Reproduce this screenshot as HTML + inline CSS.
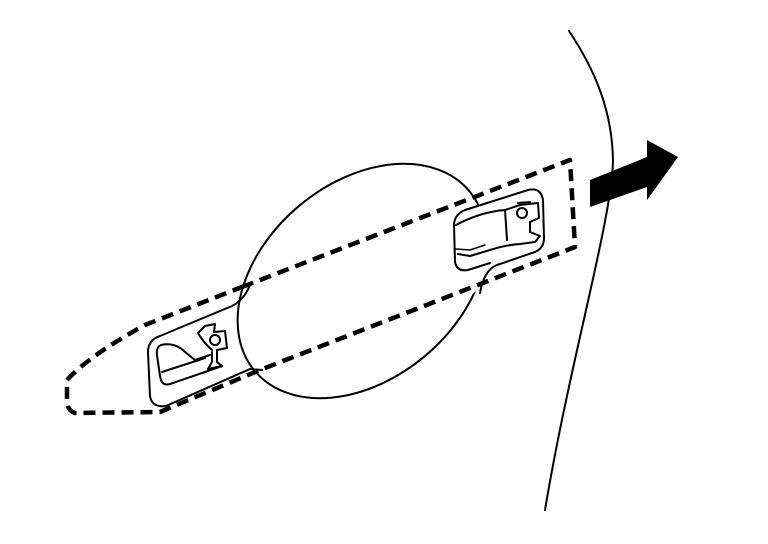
<!DOCTYPE html>
<html><head><style>html,body{margin:0;padding:0;background:#fff;}svg{display:block}</style></head>
<body>
<svg width="768" height="544" viewBox="0 0 768 544" xmlns="http://www.w3.org/2000/svg">
<rect width="768" height="544" fill="#fff"/>
<g fill="none" stroke="#000" stroke-linecap="round" stroke-linejoin="round">
<path d="M569,31 C595,70 612,110 613,160 C612,220 570,360 545,510" stroke-width="2"/>
<ellipse cx="362" cy="281" rx="140" ry="98" transform="rotate(-40 362 281)" stroke-width="2"/>
<path d="M455,215 L530,187 Q543,185 544,198 L545,240 Q544,250 530,254 L495,264 Q484,268 480,288 L470,296 L462,272 Q453,270 453,260 Z" fill="#fff" stroke="none"/>
<path d="M262,370 L250,369 L166,406 Q152,408 150,396 L148,352 Q148,340 160,336 L232,306 Q244,300 250,285" stroke-width="2"/>
<path d="M480,293 Q484,270 497,265 L535,252 Q544,248 544,238 L543,200 Q541,187 528,190 L465,210 Q455,214 454,224 L455,262 Q457,272 468,270 L490,263" stroke-width="2"/>
<path d="M456,225 Q480,212 505,210 L520,205 L538,203 L539,218 L530,222 L530,232 L540,236 L535,242 L520,244 Q505,245 490,250 L470,256 L458,254" stroke-width="2"/>
<path d="M505,210 L507,240" stroke-width="2"/>
<circle cx="522" cy="213" r="5" stroke-width="2"/>
<path d="M518,203 L530,202" stroke-width="2"/>
<path d="M456,249 L470,250 L485,245" stroke-width="1.5"/>
<path d="M161,345 Q156,347 157,355 L160,376 L161,380 Q163,386 170,384 L205,372 L222,366" stroke-width="2"/>
<path d="M161,345 Q175,342 185,352 L195,360 L210,355" stroke-width="2"/>
<path d="M162,372 L205,358" stroke-width="2"/>
<path d="M205,326 L215,324 L214,332 L225,331 L227,348 L217,350 L217,362 L222,366 L208,369 L212,362 L212,352" stroke-width="2"/>
<path d="M198,333 Q203,342 212,350" stroke-width="2"/>
<circle cx="215" cy="340" r="5" stroke-width="2"/>
<path d="M198,333 L205,326" stroke-width="2"/>
</g>
<path d="M242,287 L570,160 L575,247 L260,370 L160,412 L75,413 Q68,411 67,402 L67,380 Q90,355 145,325 Z" fill="none" stroke="#000" stroke-width="4.5" stroke-dasharray="12,7" stroke-linejoin="round"/>
<polygon points="590,180 647,157 647,140 678,157 647,200 647,187 590,207" fill="#000"/>
</svg>
</body></html>
